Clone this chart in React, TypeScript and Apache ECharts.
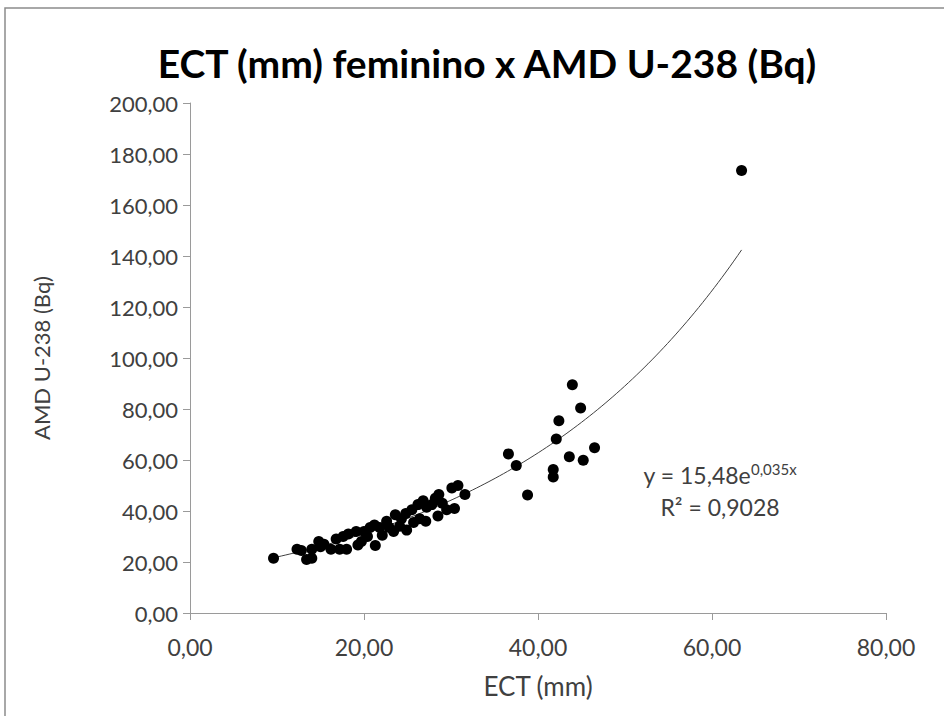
import React, { useEffect, useRef } from "react";
import * as echarts from "echarts";

const titleText = "ECT (mm) feminino x AMD U-238 (Bq)";
const xAxisName = "ECT (mm)";
const yAxisName = "AMD U-238 (Bq)";

// ECT (mm)
const ectValues = [
  9.6, 12.3, 12.8, 13.4, 14.0, 14.0, 14.8, 15.4, 16.2, 17.2, 17.6, 18.2, 18.0, 19.3, 19.1, 20.0,
  20.7, 21.3, 21.2, 21.8, 22.1, 22.6, 22.9, 23.4, 23.6, 24.1, 24.3, 24.8, 24.9, 25.5, 25.7, 26.2,
  26.4, 26.8, 27.1, 27.2, 27.8, 28.2, 28.5, 28.6, 29.0, 30.1, 30.8, 30.4, 29.5, 31.6, 19.7, 20.4,
  16.8, 15.0,
  36.6, 37.5, 38.8, 41.75, 41.75, 42.1, 42.4, 43.6, 43.95, 44.9, 45.2, 46.5,
  63.4,
];
// AMD U-238 (Bq)
const amdValues = [
  21.5, 25.0, 24.5, 21.0, 21.5, 25.0, 28.0, 27.0, 25.0, 25.0, 30.0, 31.0, 25.0, 26.7, 32.0, 32.0,
  33.5, 26.5, 34.5, 33.5, 30.5, 36.0, 33.5, 32.0, 38.5, 34.0, 37.0, 39.0, 32.5, 40.5, 35.5, 42.5,
  37.0, 44.0, 36.0, 41.5, 42.5, 45.0, 38.0, 46.5, 43.0, 49.0, 50.0, 41.0, 40.5, 46.5, 28.0, 30.0,
  29.0, 26.0,
  62.4, 57.8, 46.3, 56.3, 53.3, 68.2, 75.4, 61.3, 89.5, 80.4, 59.9, 64.8,
  173.5,
];

// Exponential trend line as labelled on the chart: y = 15,48e^(0,035x)
const trendA = 15.48;
const trendB = 0.035;
const trendLabelLine1 = "y = 15,48e";
const trendLabelExp = "0,035x";
const trendLabelLine2 = "R² = 0,9028";

const xTicks = [0, 20, 40, 60, 80];
const yTicks = [0, 20, 40, 60, 80, 100, 120, 140, 160, 180, 200];

const fmt = (v: number) => v.toFixed(2).replace(".", ",");

export default function App() {
  const ref = useRef<HTMLDivElement>(null);
  useEffect(() => {
    if (!ref.current) return;
    const chart = echarts.init(ref.current, undefined, { renderer: "svg" });
    const points = ectValues.map((x, i) => [x, amdValues[i]]);
    const xMin = Math.min(...ectValues);
    const xMax = Math.max(...ectValues);
    const trend: number[][] = [];
    const steps = 120;
    for (let i = 0; i <= steps; i++) {
      const x = xMin + ((xMax - xMin) * i) / steps;
      trend.push([x, trendA * Math.exp(trendB * x)]);
    }
    const font = "Lato, 'Open Sans', sans-serif";
    const axisColor = "#9a9a9a";
    const labelColor = "#404040";
    chart.setOption({
      animation: false,
      backgroundColor: "#ffffff",
      title: {
        text: titleText,
        left: 482,
        textAlign: "center",
        top: 38,
        textStyle: { fontFamily: font, fontSize: 39, fontWeight: "bold", color: "#000000" },
      },
      grid: { left: 190, right: 58, top: 103, bottom: 103 },
      xAxis: {
        type: "value",
        min: xTicks[0],
        max: xTicks[xTicks.length - 1],
        interval: 20,
        name: xAxisName,
        nameLocation: "middle",
        nameGap: 60,
        nameTextStyle: { fontFamily: font, fontSize: 26, color: labelColor },
        axisLine: { show: true, lineStyle: { color: axisColor, width: 1 } },
        axisTick: { show: true, length: 7, lineStyle: { color: axisColor } },
        splitLine: { show: false },
        axisLabel: { fontFamily: font, fontSize: 23, color: labelColor, margin: 22, formatter: fmt },
      },
      yAxis: {
        type: "value",
        min: yTicks[0],
        max: yTicks[yTicks.length - 1],
        interval: 20,
        name: yAxisName,
        nameLocation: "middle",
        nameGap: 138,
        nameRotate: 90,
        nameTextStyle: { fontFamily: font, fontSize: 22, color: labelColor },
        axisLine: { show: true, lineStyle: { color: axisColor, width: 1 } },
        axisTick: { show: true, length: 7, lineStyle: { color: axisColor } },
        splitLine: { show: false },
        axisLabel: { fontFamily: font, fontSize: 22, color: labelColor, margin: 12, formatter: fmt },
      },
      series: [
        {
          type: "line",
          data: trend,
          showSymbol: false,
          symbol: "none",
          lineStyle: { color: "#404040", width: 1 },
          z: 1,
          silent: true,
        },
        {
          type: "scatter",
          data: points,
          symbol: "circle",
          symbolSize: 11,
          itemStyle: { color: "#000000", opacity: 1 },
          z: 2,
        },
      ],
      graphic: [
        {
          type: "rect",
          shape: { x: 5, y: 8, width: 1200, height: 1200 },
          style: { fill: "none", stroke: "#8c8c8c", lineWidth: 1.5 },
          silent: true,
        },
        {
          type: "text",
          x: 720,
          y: 475,
          style: {
            text: `{m|${trendLabelLine1}}{s|${trendLabelExp}}`,
            align: "center",
            verticalAlign: "middle",
            rich: {
              m: { fontFamily: font, fontSize: 23, fill: "#404040" },
              s: { fontFamily: font, fontSize: 15, fill: "#404040", verticalAlign: "top", padding: [0, 0, 12, 0] },
            },
          },
        },
        {
          type: "text",
          x: 720,
          y: 507,
          style: {
            text: trendLabelLine2,
            align: "center",
            verticalAlign: "middle",
            fontFamily: font,
            fontSize: 23,
            fill: "#404040",
          },
        },
      ],
    });
    return () => chart.dispose();
  }, []);
  return <div ref={ref} style={{ width: 944, height: 716, position: "absolute", left: 0, top: 0 }} />;
}
